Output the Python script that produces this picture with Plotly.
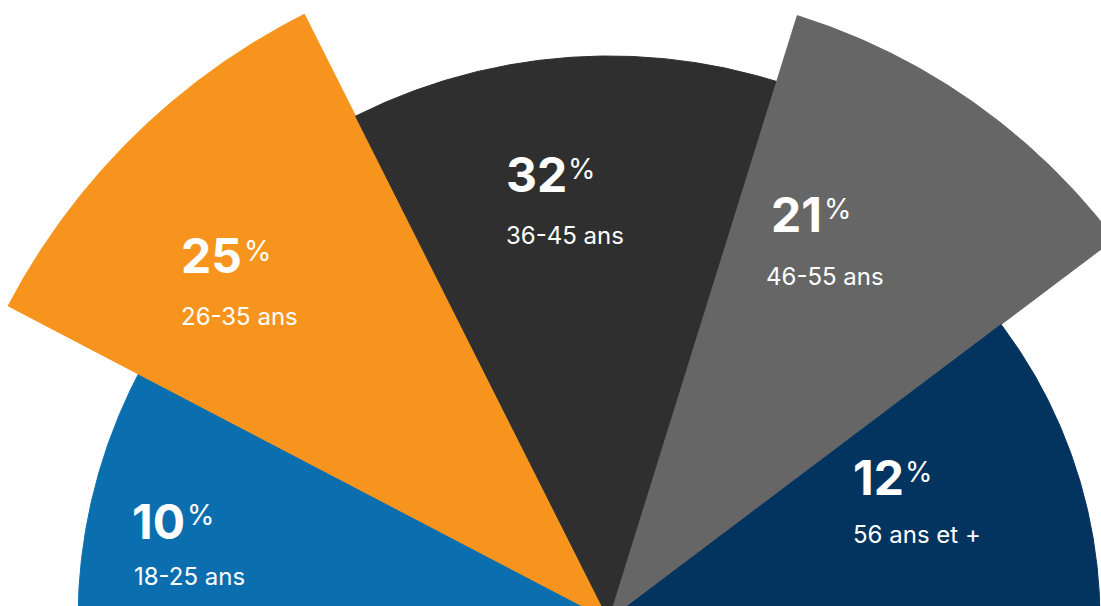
import numpy as np
import plotly.graph_objects as go

# ---- data ----
categories = ["18-25 ans", "26-35 ans", "36-45 ans", "46-55 ans", "56 ans et +"]
percent = [10, 25, 32, 21, 12]
radius = [531, 678, 564, 633, 491]          # sector radius (chart units)
angle_width = [27.6, 35.7, 44.0, 35.7, 37.0]  # angular width (degrees), left -> right
colors = ["#0B6FAF", "#F7941D", "#2F2F2F", "#666666", "#03335F"]

# ---- label layout (image px: left x, centre y) ----
num_pos = [(133, 521), (182, 255.5), (507, 174.5), (772, 214.5), (854, 477)]
pct_pos = [(188, 515), (245, 251), (569, 169), (825, 208.5), (906, 472)]
lab_pos = [(135, 576), (182, 316.5), (507, 235.5), (767, 276), (854, 534.5)]
PAD = 3   # annotation inner padding offset

W, H = 1101, 606
CX, CY = 609, 620   # centre of the fan in image px

fig = go.Figure()
start = 180.0
for cat, r, w, c in zip(categories, radius, angle_width, colors):
    t = np.radians(np.linspace(start, start - w, 200))
    xs = np.concatenate([[0], r * np.cos(t), [0]])
    ys = np.concatenate([[0], r * np.sin(t), [0]])
    fig.add_trace(go.Scatter(x=xs, y=ys, mode="lines", fill="toself",
                             fillcolor=c, line=dict(color=c, width=1),
                             name=cat, hoverinfo="name"))
    start -= w

def to_data(px, py):
    return px - CX - PAD, CY - py

annotations = []
font_family = "Inter"
for p, cat, npos, ppos, lpos in zip(percent, categories, num_pos, pct_pos, lab_pos):
    x, y = to_data(*npos)
    annotations.append(dict(x=x, y=y, text=f"<b>{p}</b>", showarrow=False,
                            xanchor="left", yanchor="middle",
                            font=dict(family=font_family, size=48, color="white")))
    x, y = to_data(*ppos)
    annotations.append(dict(x=x, y=y, text="%", showarrow=False,
                            xanchor="left", yanchor="middle",
                            font=dict(family=font_family, size=28, color="white")))
    x, y = to_data(*lpos)
    annotations.append(dict(x=x, y=y, text=cat, showarrow=False,
                            xanchor="left", yanchor="middle",
                            font=dict(family=font_family, size=24, color="white")))

fig.update_layout(
    width=W, height=H,
    margin=dict(l=0, r=0, t=0, b=0),
    paper_bgcolor="white", plot_bgcolor="white",
    showlegend=False,
    annotations=annotations,
    xaxis=dict(range=[-CX, W - CX], visible=False, fixedrange=True),
    yaxis=dict(range=[CY - H, CY], visible=False, fixedrange=True),
)
fig.write_html("out.html")
